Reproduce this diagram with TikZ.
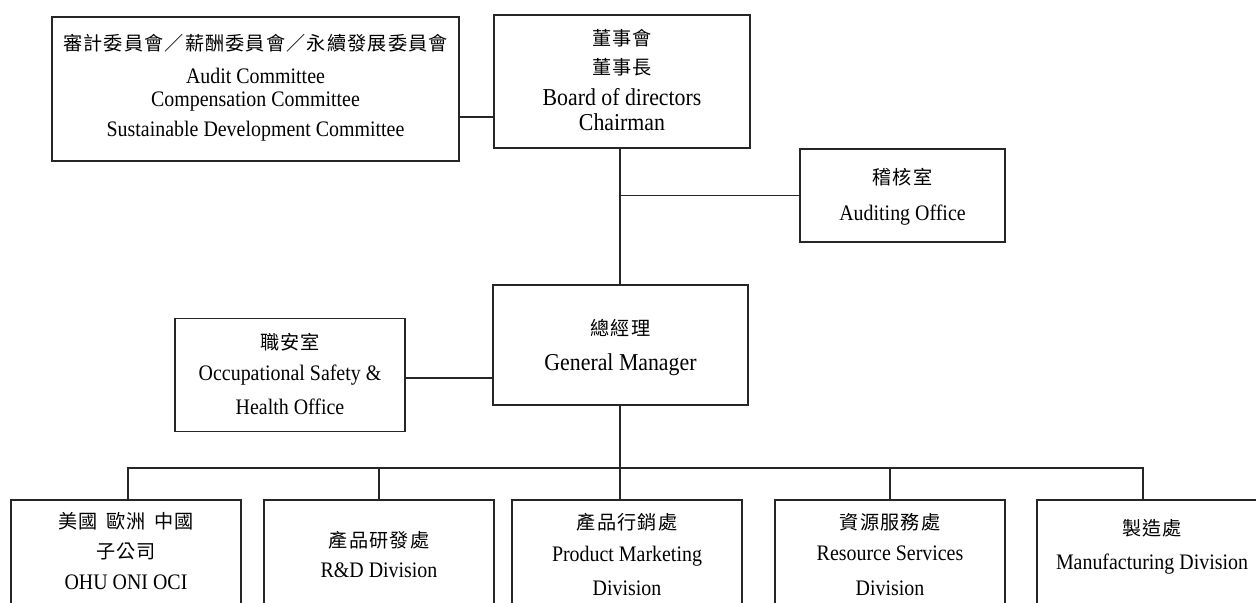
\documentclass[tikz,border=0pt]{standalone}
\usepackage{fontspec}
\setmainfont{Liberation Serif}[FakeStretch=0.9]
\newfontfamily\cjk{Noto Sans CJK TC}[LetterSpace=6]
\newcommand\zh[1]{{\cjk\fontsize{10.9pt}{17pt}\selectfont #1}}
\begin{document}
\begin{tikzpicture}[x=0.02cm,y=-0.02cm,
  frame/.style 2 args={draw=black!85, line width=0.8pt, inner sep=0pt,
    minimum width=#1*0.02cm, minimum height=#2*0.02cm},
  txt/.style={align=center, inner sep=0pt, text=black,
    font=\fontsize{12.6pt}{17pt}\selectfont},
  bigtxt/.style={txt, font=\fontsize{13.8pt}{17pt}\selectfont},
  link/.style={draw=black!85, line width=0.8pt}]
\useasboundingbox (0,0) rectangle (1256,602);
\clip (0,0) rectangle (1256,602);
% frames
\node[frame={407}{144}] (comm) at (255.5,89) {};
\node[frame={256}{133}] (board) at (622,81.5) {};
\node[frame={205}{93}] (audit) at (902.5,195.5) {};
\node[frame={230}{113}] (safety) at (290,375) {};
\node[frame={255}{120}] (gm) at (620.5,345) {};
\node[frame={230}{140}] (d1) at (126,570) {};
\node[frame={230}{140}] (d2) at (379,570) {};
\node[frame={230}{140}] (d3) at (627,570) {};
\node[frame={230}{140}] (d4) at (890,570) {};
\node[frame={230}{140}] (d5) at (1152,570) {};
% texts
\node[txt] (commt) at (255.5,87.5) {\zh{審計委員會／薪酬委員會／永續發展委員會}\\[1.7pt]Audit Committee\\[-4pt]Compensation Committee\\Sustainable Development Committee};
\node[bigtxt] (boardt) at (622,80) {\zh{董事會}\\\zh{董事長}\\[0.6pt]Board of directors\\[-2.8pt]Chairman};
\node[txt] (auditt) at (902.5,196.5) {\zh{稽核室}\\[3.4pt]Auditing Office};
\node[txt] (safetyt) at (290,374) {\zh{職安室}\\[0.6pt]Occupational Safety \&\\[2.8pt]Health Office};
\node[bigtxt] (gmt) at (620.5,347.5) {\zh{總經理}\\[3.4pt]General Manager};
\node[txt] (d1t) at (126,551) {\zh{美國\hspace{5pt}歐洲\hspace{5pt}中國}\\\zh{子公司}\\[1.1pt]OHU ONI OCI};
\node[txt] (d2t) at (379,554.5) {\zh{產品研發處}\\[0.6pt]R\&D Division};
\node[txt] (d3t) at (627,554.5) {\zh{產品行銷處}\\[1.1pt]Product Marketing\\[2.8pt]Division};
\node[txt] (d4t) at (890,554.5) {\zh{資源服務處}\\[1.1pt]Resource Services\\[2.8pt]Division};
\node[txt] (d5t) at (1152,546.5) {\zh{製造處}\\[2.3pt]Manufacturing Division};
% helper coordinates
\coordinate (j1) at (0,117);
\coordinate (j2) at (0,378);
\coordinate (spine) at (620,0);
\coordinate (bus) at (0,468);
\coordinate (x1) at (128,0);
\coordinate (x2) at (379,0);
\coordinate (x4) at (890,0);
\coordinate (x5) at (1143,0);
% connectors
\draw[link] (comm.east |- j1) -- (board.west |- j1);
\draw[link] (spine |- board.south) -- (spine |- gm.north);
\draw[link] (spine |- audit.west) -- (audit.west);
\draw[link] (safety.east |- j2) -- (gm.west |- j2);
\draw[link] (spine |- gm.south) -- (spine |- d3.north);
\draw[link] (x1 |- d1.north) -- (x1 |- bus) -- (x5 |- bus) -- (x5 |- d5.north);
\draw[link] (x2 |- bus) -- (x2 |- d2.north);
\draw[link] (x4 |- bus) -- (x4 |- d4.north);
\end{tikzpicture}
\end{document}
